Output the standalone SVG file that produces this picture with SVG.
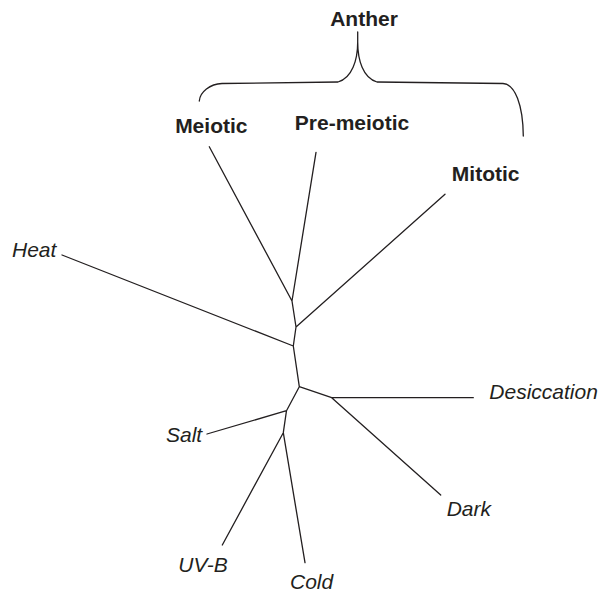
<svg xmlns="http://www.w3.org/2000/svg" width="603" height="592" viewBox="0 0 603 592">
<style>
.b{font-family:"Liberation Sans",Arial,sans-serif;font-weight:bold;font-size:21px;fill:#231f20}
.i{font-family:"Liberation Sans",Arial,sans-serif;font-style:italic;font-size:21px;fill:#231f20}
.e{fill:none;stroke:#231f20;stroke-width:1.3;stroke-linecap:round;stroke-linejoin:round}
</style>
<rect width="603" height="592" fill="#fff"/>
<g id="anther"><text class="b" x="364" y="25.7" text-anchor="middle">Anther</text></g>
<g id="brace"><path class="e" d="M357.7 32 L357.7 42 C357.7 60 352 78 338 82 L222 83.5 C210 84 200 92 199.3 101 M357.7 42 C357.7 60 363 78 377 82 L503 83.5 C515 84 523 105 523.3 136"/></g>
<g id="meiotic"><text class="b" x="211.3" y="133.3" text-anchor="middle">Meiotic</text></g>
<g id="premeiotic"><text class="b" x="352" y="130" text-anchor="middle">Pre-meiotic</text></g>
<g id="mitotic"><text class="b" x="485.7" y="181" text-anchor="middle">Mitotic</text></g>
<g id="heat"><text class="i" x="12" y="256.7">Heat</text></g>
<g id="desiccation"><text class="i" x="489.3" y="399.3">Desiccation</text></g>
<g id="dark"><text class="i" x="446.7" y="516">Dark</text></g>
<g id="salt"><text class="i" x="166" y="442">Salt</text></g>
<g id="uvb"><text class="i" x="178.3" y="571.7">UV-B</text></g>
<g id="cold"><text class="i" x="290" y="589.3">Cold</text></g>
<g id="connectors">
<path class="e" d="M209.3 146.7 L292 301 L316 152.3 M292 301 L296 327 L445 194.3 M296 327 L293.3 346 L62 255 M293.3 346 L299.3 386.7 L331.7 397.7 L473.3 397.7 M331.7 397.7 L440.7 495 M299.3 386.7 L286.5 410.7 L207 434 M286.5 410.7 L283.3 432.7 L222.3 545 M283.3 432.7 L305 562.7"/>
</g>
</svg>
